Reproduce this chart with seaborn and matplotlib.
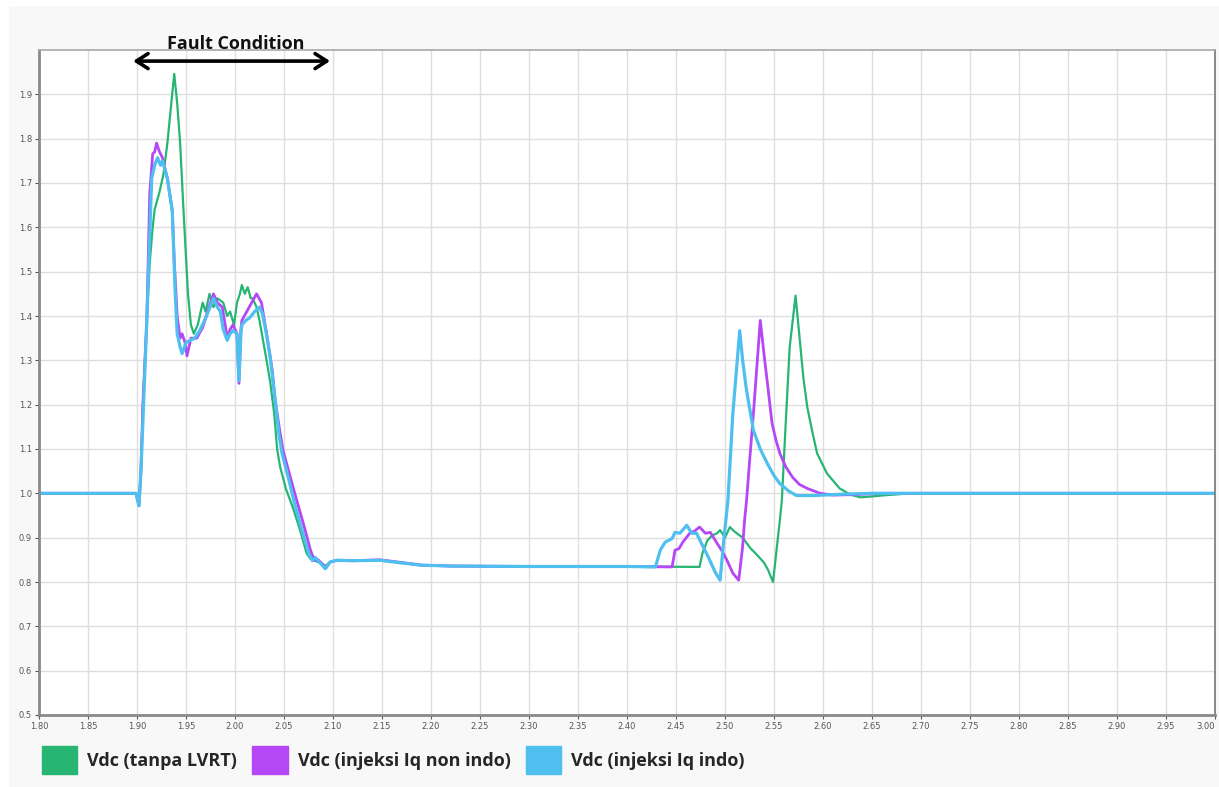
import numpy as np
import pandas as pd
import seaborn as sns
import matplotlib
matplotlib.use("Agg")
import matplotlib.pyplot as plt
from matplotlib.patches import Patch, Rectangle

# ---------------- data ----------------
series_names = ["Vdc (tanpa LVRT)", "Vdc (injeksi Iq non indo)", "Vdc (injeksi Iq indo)"]
series_colors = ["#27b573", "#b547f6", "#4fbff0"]

t_green = [1.80, 1.85, 1.899, 1.902, 1.904, 1.906, 1.910, 1.913, 1.916, 1.918, 1.923, 1.927, 1.931, 1.935,
           1.938, 1.941, 1.944, 1.948, 1.952, 1.955, 1.958, 1.962, 1.967, 1.970, 1.974, 1.978, 1.982, 1.988,
           1.992, 1.995, 1.999, 2.002, 2.005, 2.007, 2.010, 2.013, 2.016, 2.018, 2.022, 2.025, 2.029, 2.033,
           2.036, 2.040, 2.043, 2.046, 2.052, 2.059, 2.066, 2.073, 2.077, 2.080, 2.084, 2.087, 2.092, 2.097,
           2.104, 2.12, 2.148, 2.17, 2.19, 2.22, 2.30, 2.40, 2.474, 2.477, 2.482, 2.487, 2.492, 2.495, 2.500,
           2.505, 2.509, 2.512, 2.518, 2.526, 2.531, 2.536, 2.540, 2.544, 2.549, 2.553, 2.556, 2.558, 2.562,
           2.566, 2.572, 2.577, 2.580, 2.584, 2.589, 2.594, 2.604, 2.617, 2.628, 2.638, 2.650, 2.665, 2.69, 3.00]
v_green = [1.0, 1.0, 1.0, 0.972, 1.05, 1.2, 1.39, 1.52, 1.60, 1.64, 1.68, 1.72, 1.79, 1.88,
           1.946, 1.88, 1.79, 1.615, 1.45, 1.38, 1.36, 1.38, 1.43, 1.41, 1.45, 1.42, 1.44, 1.43,
           1.40, 1.41, 1.38, 1.43, 1.45, 1.47, 1.45, 1.465, 1.44, 1.44, 1.42, 1.39, 1.34, 1.29,
           1.25, 1.18, 1.10, 1.06, 1.01, 0.968, 0.92, 0.865, 0.852, 0.858, 0.845, 0.845, 0.836, 0.845,
           0.849, 0.848, 0.849, 0.843, 0.838, 0.836, 0.835, 0.835, 0.834, 0.865, 0.894, 0.905, 0.91, 0.917, 0.90,
           0.924, 0.915, 0.91, 0.90, 0.876, 0.865, 0.853, 0.843, 0.827, 0.80, 0.88, 0.94, 0.984, 1.16,
           1.33, 1.446, 1.33, 1.26, 1.194, 1.14, 1.09, 1.045, 1.011, 0.997, 0.991, 0.993, 0.996, 1.0, 1.0]

t_purple = [1.80, 1.899, 1.902, 1.904, 1.906, 1.910, 1.913, 1.916, 1.918, 1.920, 1.923, 1.926, 1.931, 1.936,
            1.938, 1.941, 1.944, 1.946, 1.949, 1.951, 1.955, 1.961, 1.967, 1.972, 1.978, 1.982, 1.987, 1.990,
            1.992, 1.995, 1.998, 2.002, 2.004, 2.006, 2.007, 2.012, 2.017, 2.022, 2.027, 2.030, 2.033, 2.038,
            2.041, 2.045, 2.049, 2.056, 2.063, 2.070, 2.077, 2.081, 2.085, 2.090, 2.093, 2.097, 2.104, 2.12,
            2.148, 2.17, 2.19, 2.22, 2.30, 2.40, 2.446, 2.449, 2.453, 2.457, 2.464, 2.469, 2.474, 2.480, 2.485,
            2.492, 2.497, 2.502, 2.508, 2.514, 2.518, 2.520, 2.522, 2.525, 2.529, 2.533, 2.536, 2.540, 2.543,
            2.548, 2.552, 2.556, 2.562, 2.569, 2.576, 2.584, 2.597, 2.61, 2.63, 2.66, 3.00]
v_purple = [1.0, 1.0, 0.972, 1.05, 1.20, 1.39, 1.676, 1.766, 1.77, 1.79, 1.77, 1.757, 1.71, 1.637,
            1.525, 1.40, 1.35, 1.36, 1.34, 1.31, 1.35, 1.35, 1.374, 1.41, 1.45, 1.43, 1.42, 1.38,
            1.35, 1.37, 1.38, 1.36, 1.248, 1.37, 1.39, 1.41, 1.43, 1.45, 1.43, 1.39, 1.35, 1.277,
            1.21, 1.15, 1.097, 1.04, 0.984, 0.93, 0.872, 0.848, 0.85, 0.838, 0.832, 0.845, 0.849, 0.848,
            0.85, 0.844, 0.838, 0.836, 0.835, 0.835, 0.834, 0.872, 0.875, 0.89, 0.91, 0.915, 0.924, 0.91, 0.912,
            0.887, 0.87, 0.849, 0.82, 0.804, 0.88, 0.94, 0.984, 1.07, 1.18, 1.30, 1.39, 1.31, 1.254,
            1.158, 1.12, 1.09, 1.06, 1.036, 1.02, 1.011, 1.0, 0.996, 0.997, 1.0, 1.0]

t_blue = [1.80, 1.899, 1.902, 1.904, 1.906, 1.910, 1.915, 1.918, 1.921, 1.924, 1.926, 1.931, 1.936, 1.939,
          1.941, 1.944, 1.946, 1.950, 1.954, 1.959, 1.964, 1.971, 1.978, 1.982, 1.985, 1.988, 1.992, 1.995,
          1.998, 2.002, 2.004, 2.006, 2.007, 2.011, 2.015, 2.020, 2.025, 2.028, 2.032, 2.036, 2.041, 2.045,
          2.048, 2.055, 2.061, 2.068, 2.075, 2.079, 2.082, 2.086, 2.092, 2.097, 2.104, 2.12, 2.148, 2.17,
          2.19, 2.22, 2.30, 2.40, 2.429, 2.434, 2.439, 2.446, 2.449, 2.454, 2.461, 2.466, 2.471, 2.476, 2.483,
          2.490, 2.495, 2.499, 2.503, 2.508, 2.515, 2.518, 2.522, 2.529, 2.536, 2.543, 2.550, 2.556, 2.565,
          2.573, 2.59, 2.62, 2.65, 3.00]
v_blue = [1.0, 1.0, 0.972, 1.05, 1.16, 1.39, 1.71, 1.74, 1.757, 1.74, 1.75, 1.71, 1.637, 1.45,
          1.36, 1.33, 1.315, 1.34, 1.345, 1.35, 1.367, 1.40, 1.44, 1.42, 1.41, 1.37, 1.345, 1.36,
          1.367, 1.36, 1.254, 1.36, 1.38, 1.39, 1.396, 1.41, 1.42, 1.405, 1.36, 1.306, 1.21, 1.13,
          1.09, 1.03, 0.975, 0.92, 0.866, 0.848, 0.855, 0.845, 0.83, 0.845, 0.849, 0.848, 0.849, 0.843,
          0.838, 0.836, 0.835, 0.835, 0.834, 0.872, 0.89, 0.898, 0.912, 0.91, 0.928, 0.91, 0.91, 0.887, 0.856,
          0.822, 0.804, 0.90, 0.984, 1.18, 1.367, 1.30, 1.232, 1.142, 1.10, 1.068, 1.04, 1.022, 1.005,
          0.995, 0.995, 0.998, 1.0, 1.0]

x_ticks = [1.80, 1.85, 1.90, 1.95, 2.00, 2.05, 2.10, 2.15, 2.20, 2.25, 2.30, 2.35, 2.40, 2.45, 2.50,
           2.55, 2.60, 2.65, 2.70, 2.75, 2.80, 2.85, 2.90, 2.95, 3.00]
y_ticks = [0.5, 0.6, 0.7, 0.8, 0.9, 1.0, 1.1, 1.2, 1.3, 1.4, 1.5, 1.6, 1.7, 1.8, 1.9]
fault_start, fault_end = 1.896, 2.097
annotation_text = "Fault Condition"

# ---------------- build long-form table ----------------
df = pd.concat([
    pd.DataFrame({"t": t_green, "v": v_green, "series": series_names[0]}),
    pd.DataFrame({"t": t_purple, "v": v_purple, "series": series_names[1]}),
    pd.DataFrame({"t": t_blue, "v": v_blue, "series": series_names[2]}),
], ignore_index=True)

sns.set_theme(style="whitegrid")
plt.rcParams["font.family"] = ["Open Sans", "DejaVu Sans"]

W, H = 1219, 787
fig = plt.figure(figsize=(W / 100, H / 100), dpi=100, facecolor="#f8f8f8")
# white margins at left/top as in the reference
fig.patches.append(Rectangle((0, 0), 8 / W, 1, transform=fig.transFigure, color="white", zorder=0))
fig.patches.append(Rectangle((0, 1 - 5 / H), 1, 5 / H, transform=fig.transFigure, color="white", zorder=0))

ax = fig.add_axes([39 / W, 1 - 715 / H, (1215 - 39) / W, (715 - 50) / H])
ax.set_facecolor("white")

palette = dict(zip(series_names, series_colors))
widths = {series_names[0]: 1.6, series_names[1]: 2.0, series_names[2]: 2.3}
for name in series_names:
    sns.lineplot(data=df[df["series"] == name], x="t", y="v", color=palette[name],
                 lw=widths[name], estimator=None, sort=False, ax=ax, legend=False)

ax.set_xlim(1.80, 3.00)
ax.set_ylim(0.5, 2.0)
ax.set_xticks(x_ticks)
ax.set_xticklabels([f"{x:.2f}" for x in x_ticks])
ax.set_yticks(y_ticks)
ax.set_yticklabels([f"{y:.1f}" for y in y_ticks])
ax.set_xlabel("")
ax.set_ylabel("")
ax.grid(True, color="#dedede", lw=1)
ax.tick_params(axis="both", labelsize=6, colors="#555555", length=3, width=0.8, pad=2,
               left=True, bottom=True, labelfontfamily="DejaVu Sans")
xlabels = ax.get_xticklabels()
xlabels[-1].set_horizontalalignment("right")
for side in ["left", "bottom"]:
    ax.spines[side].set_color("#8a8a8a")
    ax.spines[side].set_linewidth(2)
for side in ["top", "right"]:
    ax.spines[side].set_color("#a8a8a8")
    ax.spines[side].set_linewidth(1.2)
ax.spines["right"].set_color("#777777")

# fault arrow and label
ax.annotate("", xy=(fault_start, 1.975), xytext=(fault_end, 1.975),
            arrowprops=dict(arrowstyle="<->,head_length=0.7,head_width=0.45", lw=2.6, color="black",
                            shrinkA=0, shrinkB=0), annotation_clip=False)
ax.text((fault_start + fault_end) / 2 + 0.004, 2.013, annotation_text, ha="center", va="center",
        fontsize=13, fontweight="bold", color="#111111", clip_on=False)

# legend
handles = [Patch(facecolor=c, edgecolor=c, label=n) for n, c in zip(series_names, series_colors)]
fig.legend(handles=handles, loc="center left", bbox_to_anchor=(33 / W, 1 - 760 / H), ncol=3,
           frameon=False, prop={"weight": "bold", "size": 13},
           handlelength=1.95, handleheight=1.95, handletextpad=0.55, columnspacing=0.85, borderpad=0)

fig.savefig("out.png", dpi=100, facecolor=fig.get_facecolor())
